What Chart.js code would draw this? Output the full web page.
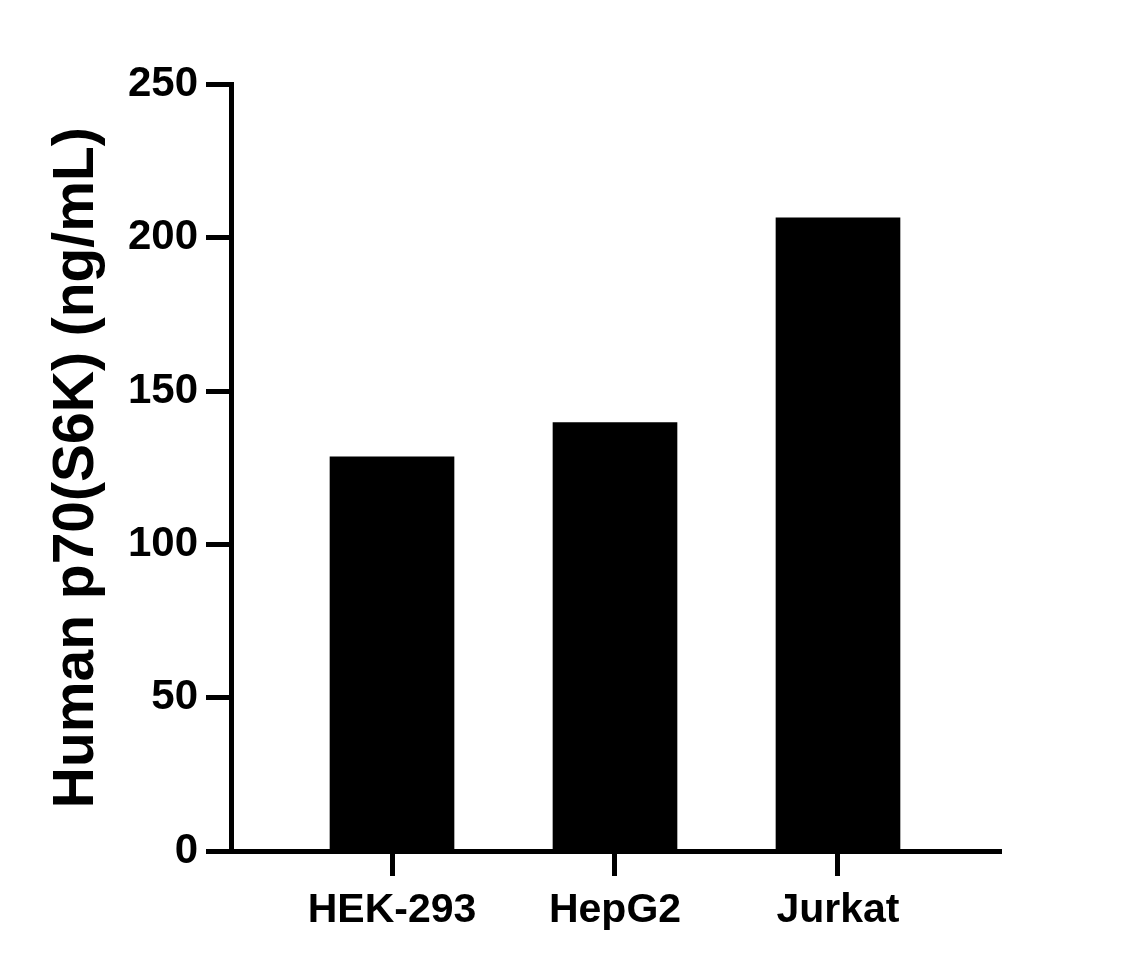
<!DOCTYPE html>
<html>
<head>
<meta charset="utf-8">
<script src="https://cdn.jsdelivr.net/npm/chart.js@4.4.0/dist/chart.umd.min.js"></script>
<style>
  html,body{margin:0;padding:0;background:#fff}
  canvas{display:block}
</style>
</head>
<body>
<canvas id="c" width="1137" height="968"></canvas>
<script>
// cell lines and measured p70(S6K) levels
const cellLines = ['HEK-293', 'HepG2', 'Jurkat'];
const concNgMl = [128.6, 139.7, 206.5];
const yTicks = [0, 50, 100, 150, 200, 250];
const yTitle = 'Human p70(S6K) (ng/mL)';

const FF = "'Liberation Sans', Arial, sans-serif";
const LW = 5;

const pts = cellLines.map((n, i) => ({x: i, y: concNgMl[i]}));

new Chart(document.getElementById('c'), {
  type: 'bar',
  data: {datasets: [{data: pts, backgroundColor: '#000', borderWidth: 0, barThickness: 124}]},
  options: {
    responsive: false, animation: false, devicePixelRatio: 1,
    layout: {padding: {top: 84.5, right: 136, left: 0, bottom: 0}},
    plugins: {legend: {display: false}, tooltip: {enabled: false}},
    scales: {
      x: {
        type: 'linear', min: -0.722, max: 2.731, offset: false,
        afterBuildTicks: s => { s.ticks = cellLines.map((n, i) => ({value: i})) },
        afterFit: s => { s.height = 117 },
        grid: {display: true, offset: false, drawOnChartArea: false, drawTicks: true, tickLength: 25, tickWidth: LW, tickColor: '#000'},
        border: {display: true, width: LW, color: '#000'},
        ticks: {color: '#000', padding: 10, maxRotation: 0, autoSkip: false,
          font: {family: FF, size: 41, weight: 'bold'},
          callback: v => cellLines[v]}
      },
      y: {
        min: 0, max: 250,
        afterBuildTicks: s => { s.ticks = yTicks.map(v => ({value: v})) },
        afterFit: s => { s.width = 231 },
        grid: {display: true, drawOnChartArea: false, drawTicks: true, tickLength: 25, tickWidth: LW, tickColor: '#000'},
        border: {display: true, width: LW, color: '#000'},
        ticks: {color: '#000', padding: 8, font: {family: FF, size: 42, weight: 'bold'}},
        title: {display: true, text: yTitle, color: '#000', padding: {top: 43, bottom: 0},
          font: {family: FF, size: 57, weight: 'bold'}}
      }
    }
  }
});
</script>
</body>
</html>
